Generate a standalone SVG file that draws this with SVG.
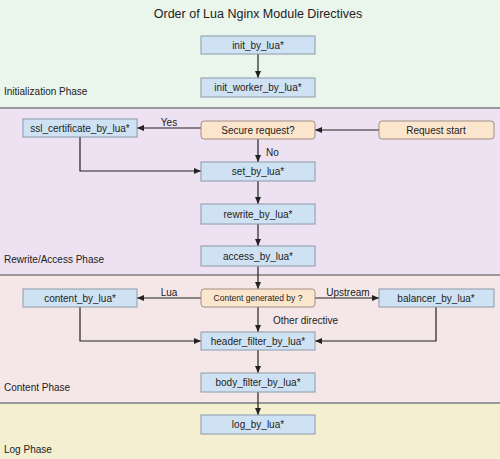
<svg xmlns="http://www.w3.org/2000/svg" width="500" height="459" viewBox="0 0 500 459">
<defs>
<marker id="ah" markerWidth="8" markerHeight="8" refX="7" refY="4" orient="auto" markerUnits="userSpaceOnUse">
<path d="M0,1 L7,4 L0,7 z" fill="#222"/>
</marker>
<style>
text{font-family:"Liberation Sans",Arial,sans-serif;fill:#222}
.n{font-size:10px;text-anchor:middle}
.ph{font-size:10px}
.b{fill:#cfe2f3;stroke:#8a9aaa;stroke-width:1}
.o{fill:#fce5cd;stroke:#a09080;stroke-width:1}
.c{fill:none;stroke:#222;stroke-width:1.2;marker-end:url(#ah)}
.sep{stroke:#999;stroke-width:2}
.lb{font-size:10px}
</style>
</defs>
<g id="phases">
<rect x="0" y="0" width="500" height="108" fill="#eaf5eb"/>
<rect x="0" y="108" width="500" height="167" fill="#ede1f2"/>
<rect x="0" y="275" width="500" height="128" fill="#f5e7e7"/>
<rect x="0" y="403" width="500" height="56" fill="#f3efd0"/>
<line class="sep" x1="0" y1="108" x2="500" y2="108"/>
<line class="sep" x1="0" y1="275" x2="500" y2="275"/>
<line class="sep" x1="0" y1="403" x2="500" y2="403"/>
<text x="258" y="18" font-size="12.5" text-anchor="middle">Order of Lua Nginx Module Directives</text>
<text class="ph" x="4" y="95">Initialization Phase</text>
<text class="ph" x="4" y="263">Rewrite/Access Phase</text>
<text class="ph" x="4" y="391">Content Phase</text>
<text class="ph" x="4" y="453">Log Phase</text>
</g>
<g id="connectors">
<line class="c" x1="258" y1="54" x2="258" y2="78"/>
<line class="c" x1="379" y1="130" x2="315" y2="130"/>
<line class="c" x1="201" y1="128" x2="137" y2="128"/>
<line class="c" x1="258" y1="139" x2="258" y2="162"/>
<polyline class="c" points="80,137 80,171 201,171"/>
<line class="c" x1="258" y1="181" x2="258" y2="204"/>
<line class="c" x1="258" y1="224" x2="258" y2="246"/>
<line class="c" x1="258" y1="266" x2="258" y2="289"/>
<line class="c" x1="201" y1="298" x2="137" y2="298"/>
<line class="c" x1="315" y1="298" x2="379" y2="298"/>
<line class="c" x1="258" y1="307" x2="258" y2="332"/>
<polyline class="c" points="80,307 80,341 201,341"/>
<polyline class="c" points="436,307 436,341 315,341"/>
<line class="c" x1="258" y1="350" x2="258" y2="373"/>
<line class="c" x1="258" y1="392" x2="258" y2="415"/>
<text class="lb" x="169" y="126" text-anchor="middle">Yes</text>
<text class="lb" x="266" y="156">No</text>
<text class="lb" x="169" y="296" text-anchor="middle">Lua</text>
<text class="lb" x="348" y="296" text-anchor="middle">Upstream</text>
<text class="lb" x="273" y="324">Other directive</text>
</g>
<g id="init_by_lua"><rect class="b" x="201" y="36" width="114" height="18"/><text class="n" x="258" y="48.5">init_by_lua*</text></g>
<g id="init_worker_by_lua"><rect class="b" x="201" y="78" width="114" height="19"/><text class="n" x="258" y="91">init_worker_by_lua*</text></g>
<g id="ssl_certificate_by_lua"><rect class="b" x="23" y="119" width="114" height="18"/><text class="n" x="80" y="131.5">ssl_certificate_by_lua*</text></g>
<g id="secure_request"><rect class="o" x="201" y="121" width="114" height="18" rx="3"/><text class="n" x="258" y="133.5">Secure request?</text></g>
<g id="request_start"><rect class="o" x="379" y="121" width="115" height="18" rx="3"/><text class="n" x="436" y="133.5">Request start</text></g>
<g id="set_by_lua"><rect class="b" x="201" y="162" width="114" height="19"/><text class="n" x="258" y="175">set_by_lua*</text></g>
<g id="rewrite_by_lua"><rect class="b" x="201" y="204" width="114" height="20"/><text class="n" x="258" y="217.5">rewrite_by_lua*</text></g>
<g id="access_by_lua"><rect class="b" x="201" y="246" width="114" height="20"/><text class="n" x="258" y="259.5">access_by_lua*</text></g>
<g id="content_by_lua"><rect class="b" x="23" y="289" width="114" height="18"/><text class="n" x="80" y="301.5">content_by_lua*</text></g>
<g id="content_generated"><rect class="o" x="201" y="289" width="114" height="18" rx="3"/><text class="n" x="258" y="301" style="font-size:8.5px">Content generated by ?</text></g>
<g id="balancer_by_lua"><rect class="b" x="379" y="289" width="115" height="18"/><text class="n" x="436" y="301.5">balancer_by_lua*</text></g>
<g id="header_filter_by_lua"><rect class="b" x="201" y="332" width="114" height="18"/><text class="n" x="258" y="344.5">header_filter_by_lua*</text></g>
<g id="body_filter_by_lua"><rect class="b" x="201" y="373" width="114" height="19"/><text class="n" x="258" y="386">body_filter_by_lua*</text></g>
<g id="log_by_lua"><rect class="b" x="201" y="415" width="114" height="19"/><text class="n" x="258" y="428">log_by_lua*</text></g>
</svg>
